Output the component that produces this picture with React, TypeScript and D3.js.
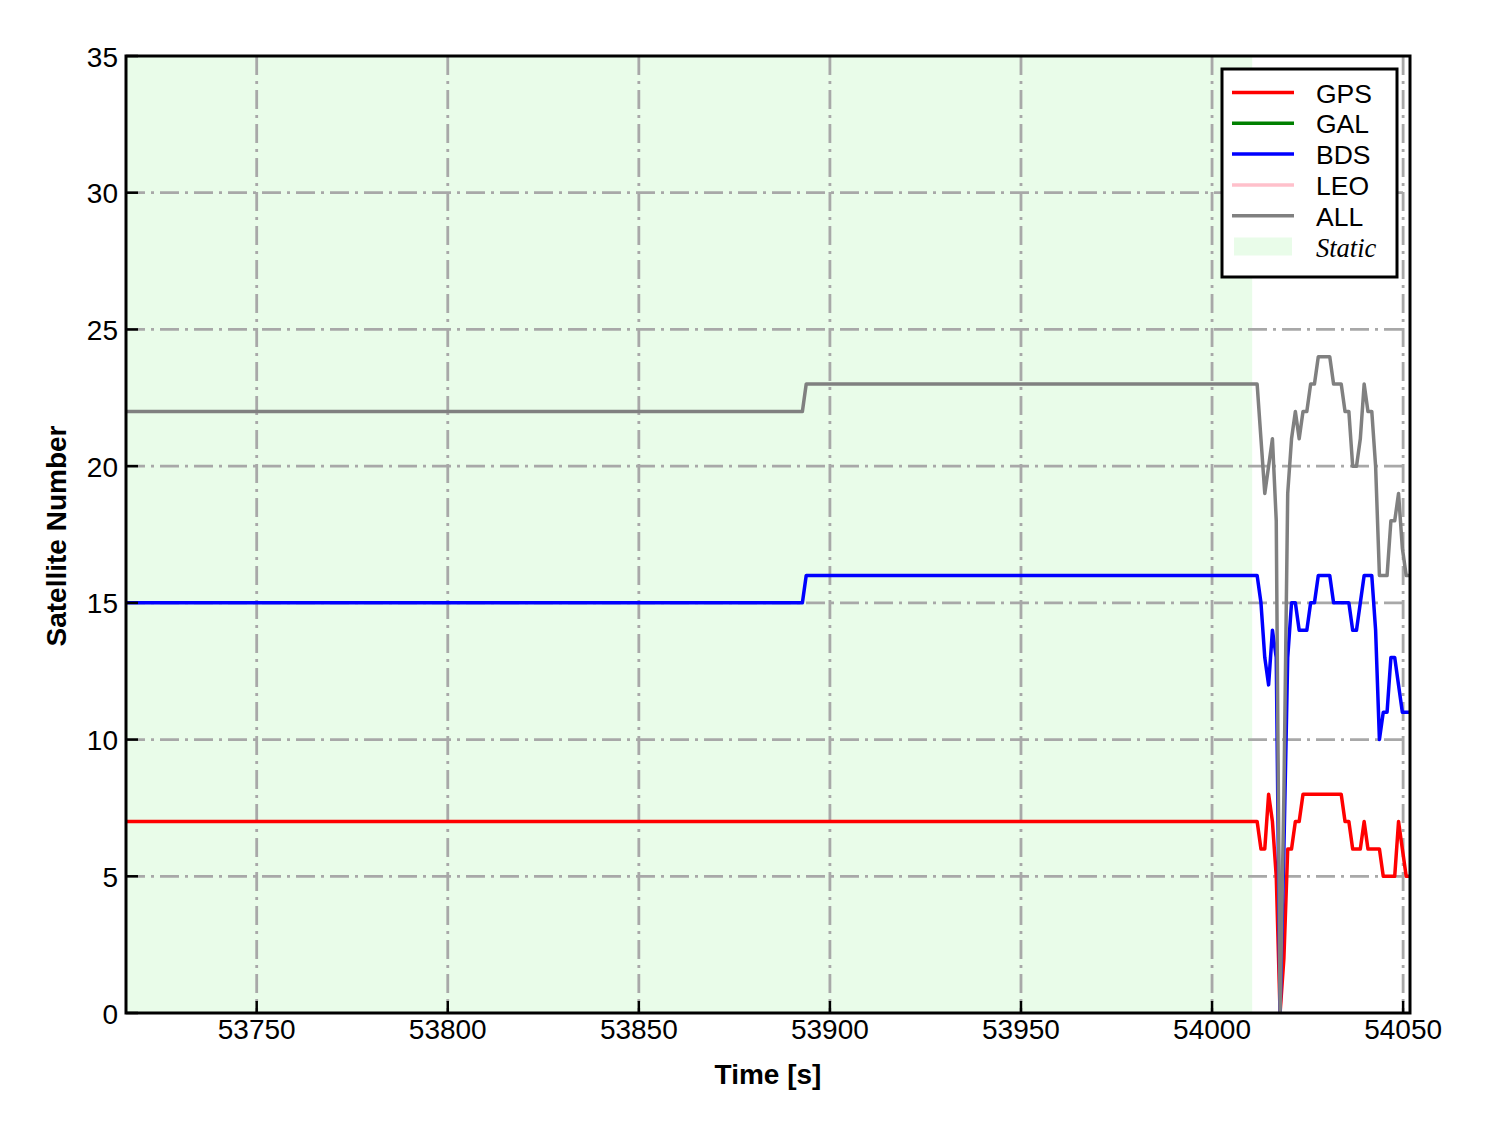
import React from "react";
import * as d3 from "d3";

// ---- data (breakpoints of 1 s samples; flat runs give only their ends) ----
const TIME = [
  53715.8, 53892.8, 53893.8, 54011.8, 54012.8, 54013.8, 54014.8, 54015.8, 54016.8, 54017.8,
  54018.8, 54019.8, 54020.8, 54021.8, 54022.8, 54023.8, 54024.8, 54025.8, 54026.8, 54027.8,
  54028.8, 54029.8, 54030.8, 54031.8, 54032.8, 54033.8, 54034.8, 54035.8, 54036.8, 54037.8,
  54038.8, 54039.8, 54040.8, 54041.8, 54042.8, 54043.8, 54044.8, 54045.8, 54046.8, 54047.8,
  54048.8, 54049.8, 54050.8, 54051.8,
];
const GPS = [
  7, 7, 7, 7, 6, 6, 8, 7, 5, 0,
  2, 6, 6, 7, 7, 8, 8, 8, 8, 8,
  8, 8, 8, 8, 8, 8, 7, 7, 6, 6,
  6, 7, 6, 6, 6, 6, 5, 5, 5, 5,
  7, 6, 5, 5,
];
const BDS = [
  15, 15, 16, 16, 15, 13, 12, 14, 13, 0,
  6, 13, 15, 15, 14, 14, 14, 15, 15, 16,
  16, 16, 16, 15, 15, 15, 15, 15, 14, 14,
  15, 16, 16, 16, 14, 10, 11, 11, 13, 13,
  12, 11, 11, 11,
];
const ALL = [
  22, 22, 23, 23, 21, 19, 20, 21, 18, 0,
  8, 19, 21, 22, 21, 22, 22, 23, 23, 24,
  24, 24, 24, 23, 23, 23, 22, 22, 20, 20,
  21, 23, 22, 22, 20, 16, 16, 16, 18, 18,
  19, 17, 16, 16,
];
const STATIC_START = 53715.8;
const STATIC_END = 54010.5;

const X_TICKS = [53750, 53800, 53850, 53900, 53950, 54000, 54050];
const Y_TICKS = [0, 5, 10, 15, 20, 25, 30, 35];

const SERIES = [
  { name: "GPS", color: "#ff0000", values: GPS },
  { name: "GAL", color: "#008000", values: null as number[] | null },
  { name: "BDS", color: "#0000ff", values: BDS },
  { name: "LEO", color: "#ffc0cb", values: null as number[] | null },
  { name: "ALL", color: "#808080", values: ALL },
];

export default function App() {
  const W = 1488, H = 1133;
  const L = 126, R = 1410, T = 56, B = 1013;
  const x = d3.scaleLinear().domain([TIME[0], TIME[TIME.length - 1]]).range([L, R]);
  const y = d3.scaleLinear().domain([0, 35]).range([B, T]);
  const line = (vals: number[]) =>
    d3.line<number>().x((_, i) => x(TIME[i])).y((v) => y(v))(vals) || "";

  const font = "'Liberation Sans', Arial, Helvetica, sans-serif";
  const gridStyle = { stroke: "#a8a8a8", strokeWidth: 2.8, strokeDasharray: "19 6 3 6" };

  const legX = 1222, legY = 69, legW = 175, legH = 208;
  const rowY = (i: number) => 92.5 + i * 30.8;

  return (
    <div style={{ position: "absolute", left: 0, top: 0 }}>
      <svg width={W} height={H} style={{ display: "block", background: "#fff" }}>
        <defs>
          <clipPath id="plot">
            <rect x={L} y={T} width={R - L} height={B - T} />
          </clipPath>
        </defs>
        <rect
          x={x(STATIC_START)}
          y={T}
          width={x(STATIC_END) - x(STATIC_START)}
          height={B - T}
          fill="#e9fce9"
        />
        {/* grid */}
        {X_TICKS.map((t) => (
          <line key={"gx" + t} x1={x(t)} x2={x(t)} y1={T} y2={B} {...gridStyle} />
        ))}
        {Y_TICKS.filter((v) => v > 0 && v < 35).map((v) => (
          <line key={"gy" + v} x1={L} x2={R} y1={y(v)} y2={y(v)} {...gridStyle} />
        ))}
        {/* lines */}
        <g clipPath="url(#plot)">
          {SERIES.filter((s) => s.values).map((s) => (
            <path
              key={s.name}
              d={line(s.values as number[])}
              fill="none"
              stroke={s.color}
              strokeWidth={3.5}
              strokeLinejoin="round"
            />
          ))}
        </g>
        {/* ticks */}
        {X_TICKS.map((t) => (
          <line key={"tx" + t} x1={x(t)} x2={x(t)} y1={B} y2={B - 12} stroke="#000" strokeWidth={2.5} />
        ))}
        {Y_TICKS.map((v) => (
          <line key={"ty" + v} x1={L} x2={L + 12} y1={y(v)} y2={y(v)} stroke="#000" strokeWidth={2.5} />
        ))}
        {/* frame */}
        <rect x={L} y={T} width={R - L} height={B - T} fill="none" stroke="#000" strokeWidth={3} />
        {/* tick labels */}
        {X_TICKS.map((t) => (
          <text key={"lx" + t} x={x(t)} y={1039} textAnchor="middle" fontFamily={font} fontSize={28} fill="#000">
            {t}
          </text>
        ))}
        {Y_TICKS.map((v) => (
          <text
            key={"ly" + v}
            x={118}
            y={y(v) + 1}
            textAnchor="end"
            dominantBaseline="central"
            fontFamily={font}
            fontSize={28}
            fill="#000"
          >
            {v}
          </text>
        ))}
        {/* axis titles */}
        <text x={768} y={1084} textAnchor="middle" fontFamily={font} fontSize={28} fontWeight="bold">
          Time [s]
        </text>
        <text
          transform={`translate(66, 536) rotate(-90)`}
          textAnchor="middle"
          fontFamily={font}
          fontSize={28}
          fontWeight="bold"
        >
          Satellite Number
        </text>
        {/* legend */}
        <rect x={legX} y={legY} width={legW} height={legH} fill="#fff" stroke="#000" strokeWidth={3} />
        {SERIES.map((s, i) => (
          <g key={"leg" + s.name}>
            <line x1={1232} x2={1294} y1={rowY(i)} y2={rowY(i)} stroke={s.color} strokeWidth={3.5} />
            <text
              x={1316}
              y={rowY(i) + 1}
              dominantBaseline="central"
              fontFamily={font}
              fontSize={26.5}
              fill="#000"
            >
              {s.name}
            </text>
          </g>
        ))}
        <rect x={1234} y={rowY(5) - 9} width={58} height={18} fill="#e9fce9" />
        <text
          x={1316}
          y={rowY(5) + 1}
          dominantBaseline="central"
          fontFamily="'Liberation Serif', 'Times New Roman', serif"
          fontStyle="italic"
          fontSize={26.5}
          fill="#000"
        >
          Static
        </text>
      </svg>
    </div>
  );
}
